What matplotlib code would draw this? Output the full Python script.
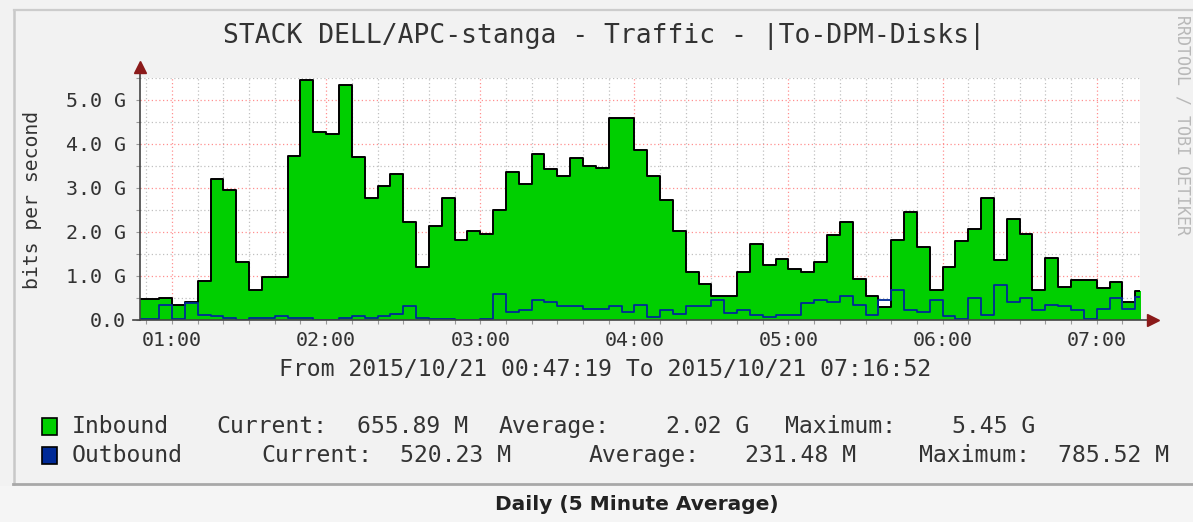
import datetime as dt
import numpy as np
import pandas as pd
import matplotlib
matplotlib.use('Agg')
import matplotlib.pyplot as plt
import matplotlib.dates as mdates
import matplotlib.ticker as ticker
from matplotlib.patches import Rectangle
from matplotlib.lines import Line2D

#---------------
# DATA (G bits per second, 5 minute averages starting 00:45)
#---------------
inbound = [0.46, 0.46, 0.48, 0.34, 0.39, 0.88, 3.21, 2.95, 1.31, 0.68,
           0.97, 0.97, 3.73, 5.45, 4.28, 4.22, 5.34, 3.69, 2.77, 3.05,
           3.31, 2.21, 1.20, 2.14, 2.77, 1.81, 2.01, 1.95, 2.49, 3.35,
           3.09, 3.76, 3.42, 3.27, 3.67, 3.50, 3.46, 4.60, 4.60, 3.87,
           3.27, 2.72, 2.01, 1.09, 0.80, 0.54, 0.54, 1.09, 1.72, 1.25,
           1.37, 1.16, 1.09, 1.31, 1.92, 2.23, 0.93, 0.54, 0.29, 1.81,
           2.44, 1.66, 0.67, 1.20, 1.79, 2.07, 2.77, 1.35, 2.30, 1.95,
           0.67, 1.39, 0.74, 0.90, 0.90, 0.71, 0.86, 0.39, 0.66]

outbound = [0.02, 0.02, 0.34, 0.02, 0.38, 0.11, 0.08, 0.04, 0.00, 0.03,
            0.03, 0.07, 0.03, 0.03, 0.00, 0.00, 0.04, 0.07, 0.04, 0.07,
            0.12, 0.30, 0.03, 0.02, 0.02, 0.00, 0.00, 0.02, 0.58, 0.16,
            0.21, 0.44, 0.39, 0.30, 0.30, 0.25, 0.25, 0.30, 0.16, 0.34,
            0.06, 0.21, 0.12, 0.30, 0.30, 0.44, 0.15, 0.21, 0.11, 0.06,
            0.11, 0.11, 0.38, 0.44, 0.39, 0.53, 0.34, 0.11, 0.44, 0.67,
            0.21, 0.16, 0.44, 0.08, 0.02, 0.48, 0.11, 0.79, 0.39, 0.48,
            0.21, 0.34, 0.30, 0.21, 0.02, 0.25, 0.48, 0.25, 0.52]

t0 = dt.datetime(2015, 10, 21, 0, 45)
tstart = dt.datetime(2015, 10, 21, 0, 47, 19)
tend = dt.datetime(2015, 10, 21, 7, 16, 52)

title = 'STACK DELL/APC-stanga - Traffic - |To-DPM-Disks|'
ylab = 'bits per second'
xlab = 'From 2015/10/21 00:47:19 To 2015/10/21 07:16:52'
legend_rows = [
    ('Inbound', '#00CF00', [('Current:', 216), ('655.89 M', 357), ('Average:', 499),
                            ('2.02 G', 666), ('Maximum:', 785), ('5.45 G', 952)]),
    ('Outbound', '#002A97', [('Current:', 261), ('520.23 M', 400), ('Average:', 589),
                             ('231.48 M', 745), ('Maximum:', 919), ('785.52 M', 1058)]),
]

W, H = 1193, 522
mono = 'DejaVu Sans Mono'
txtcol = '#333333'


def fx(x):
    return x / W


def fy(y):
    return (H - y) / H


#---------------
# FIGURE
#---------------
fig = plt.figure(figsize=(W / 100, H / 100), dpi=100, facecolor='#f2f2f2')

# frame around the graph
fig.add_artist(Rectangle((0, 0), 1, fy(486), transform=fig.transFigure,
                         facecolor='#f5f5f5', edgecolor='none', zorder=0))
fig.add_artist(Line2D([fx(13.5), fx(13.5)], [fy(10), fy(484)], transform=fig.transFigure,
                      color='#c8c8c8', lw=1.8))
fig.add_artist(Line2D([fx(13.5), 1.0], [fy(9.5), fy(9.5)], transform=fig.transFigure,
                      color='#cccccc', lw=1.6))
fig.add_artist(Line2D([fx(12.5), 1.0], [fy(484), fy(484)], transform=fig.transFigure,
                      color='#a8a8a8', lw=2.0))

ax = fig.add_axes([fx(139.5), fy(319.5), (1140 - 139.5) / W, 241.5 / H])
ax.set_facecolor('white')
for s in ax.spines.values():
    s.set_visible(False)

times = pd.date_range(t0, periods=len(inbound), freq='5min')
xs = list(times) + [times[-1] + pd.Timedelta(minutes=5)]
yin = inbound + [inbound[-1]]
yout = outbound + [outbound[-1]]

ax.fill_between(xs, yin, step='post', color='#00CF00', lw=0, zorder=2)
ax.step(xs, yin, where='post', color='black', lw=1.4, zorder=3)
ax.step(xs, yout, where='post', color='#002A97', lw=1.3, zorder=4)

ax.set_xlim(tstart, tend)
ax.set_ylim(0, 5.5)

# ticks and grid
ax.xaxis.set_major_locator(mdates.HourLocator())
ax.xaxis.set_minor_locator(mdates.MinuteLocator(byminute=[10, 20, 30, 40, 50]))
ax.xaxis.set_major_formatter(mdates.DateFormatter('%H:%M'))
ax.yaxis.set_major_locator(ticker.MultipleLocator(1))
ax.yaxis.set_minor_locator(ticker.MultipleLocator(0.5))
ax.yaxis.set_major_formatter(ticker.FuncFormatter(lambda v, p: '0.0' if v == 0 else '%.1f G' % v))

ax.set_axisbelow(True)
ax.grid(which='major', color='#ff9090', linestyle=(0, (1, 2)), lw=0.9)
ax.grid(which='minor', color='#c0c0c0', linestyle=(0, (1, 2)), lw=0.9)
ax.tick_params(which='both', direction='out', length=3, width=0.8, color='#999999')
ax.tick_params(axis='x', pad=5, labelsize=14.4, labelcolor=txtcol)
ax.tick_params(axis='y', pad=7, labelsize=14.4, labelcolor=txtcol)
for lab in ax.get_xticklabels() + ax.get_yticklabels():
    lab.set_family(mono)

# axis lines with arrows
ax.plot([0, 0], [0, 1.04], transform=ax.transAxes, color='#444444', lw=1.2, clip_on=False, zorder=5)
ax.plot([-0.006, 1.012], [0, 0], transform=ax.transAxes, color='#444444', lw=1.2, clip_on=False, zorder=5)
ax.plot([0], [1.045], transform=ax.transAxes, marker='^', ms=8, color='#8b1a1a', clip_on=False, zorder=6)
ax.plot([1.013], [0], transform=ax.transAxes, marker='>', ms=8, color='#8b1a1a', clip_on=False, zorder=6)

#---------------
# TEXT
#---------------
fig.text(fx(604), fy(36), title, family=mono, size=19, color=txtcol, ha='center', va='center')
fig.text(fx(33), fy(200), ylab, family=mono, size=14.2, color=txtcol, rotation=90, ha='center', va='center')
fig.text(fx(605), fy(370), xlab, family=mono, size=16.7, color=txtcol, ha='center', va='center')
fig.text(fx(1182), fy(125), 'RRDTOOL / TOBI OETIKER', family=mono, size=12, color='#b8b8b8',
         rotation=270, ha='center', va='center')

# legend (common baseline per row)
for i, (name, col, items) in enumerate(legend_rows):
    yc = 426 + i * 29
    fig.add_artist(Rectangle((fx(42), fy(yc + 8.5)), 15 / W, 17 / H, transform=fig.transFigure,
                             facecolor=col, edgecolor='black', lw=1.2))
    fig.text(fx(72), fy(yc + 7), name, family=mono, size=16.7, color=txtcol, ha='left', va='baseline')
    for s, xpos in items:
        fig.text(fx(xpos), fy(yc + 7), s, family=mono, size=16.7, color=txtcol, ha='left', va='baseline')

fig.text(fx(637), fy(505), 'Daily (5 Minute Average)', family='DejaVu Sans', weight='bold',
         size=14.5, color='#222222', ha='center', va='center')

fig.savefig('out.png', dpi=100, facecolor=fig.get_facecolor())
